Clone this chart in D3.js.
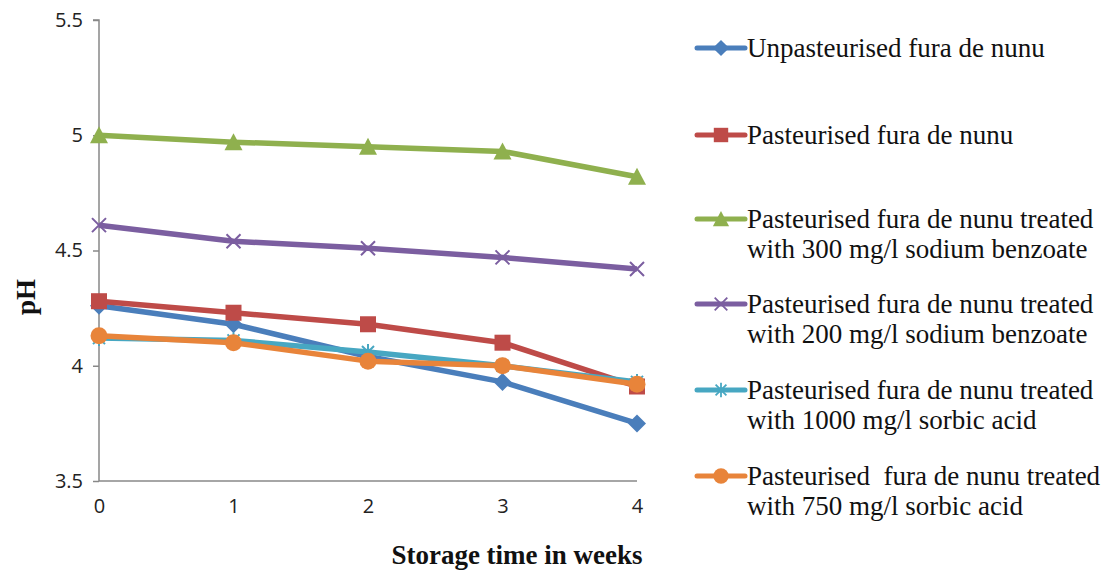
<!DOCTYPE html>
<html lang="en">
<head>
    <style>
        body { margin: 0; background: #fff; }
        .tick text { font-family: "Open Sans", "Liberation Sans", sans-serif; font-size: 20px; fill: #222; }
        .axis path, .axis line { stroke: #888; stroke-width: 1.5; }
        .legend text { font-family: "Liberation Serif", "Times New Roman", serif; font-size: 27px; fill: #111; }
        .title { font-family: "Liberation Serif", "Times New Roman", serif; font-size: 27px; font-weight: bold; fill: #111; }
    </style>
    <script src="https://d3js.org/d3.v7.min.js"></script>
</head>
<body>
<svg width="1105" height="571"></svg>
<script>
    // storage time in weeks
    var weeks = [0, 1, 2, 3, 4];
    var yTicks = [3.5, 4, 4.5, 5, 5.5];

    var unpasteurised = [4.26, 4.18, 4.04, 3.93, 3.75];
    var pasteurised = [4.28, 4.23, 4.18, 4.10, 3.91];
    var benzoate300 = [5.00, 4.97, 4.95, 4.93, 4.82];
    var benzoate200 = [4.61, 4.54, 4.51, 4.47, 4.42];
    var sorbic1000 = [4.12, 4.11, 4.06, 4.00, 3.93];
    var sorbic750 = [4.13, 4.10, 4.02, 4.00, 3.92];

    var seriesNames = [
        ["Unpasteurised fura de nunu"],
        ["Pasteurised fura de nunu"],
        ["Pasteurised fura de nunu treated", "with 300 mg/l sodium benzoate"],
        ["Pasteurised fura de nunu treated", "with 200 mg/l sodium benzoate"],
        ["Pasteurised fura de nunu treated", "with 1000 mg/l sorbic acid"],
        ["Pasteurised\u00a0 fura de nunu treated", "with 750 mg/l sorbic acid"]
    ];
    var colors = ["#4a7ebb", "#be4b48", "#8fb04e", "#7b5ea0", "#47a7c2", "#e8843a"];
    var shapes = ["diamond", "square", "triangle", "x", "star", "circle"];
    var values = [unpasteurised, pasteurised, benzoate300, benzoate200, sorbic1000, sorbic750];

    var svg = d3.select("svg");
    var plotLeft = 99, plotRight = 637, plotTop = 20, plotBottom = 481;

    var x = d3.scaleLinear().domain([0, 4]).range([plotLeft, plotRight]);
    var y = d3.scaleLinear().domain([3.5, 5.5]).range([plotBottom, plotTop]);

    // axes
    var yAxis = svg.append("g").attr("class", "axis")
        .attr("transform", "translate(" + plotLeft + ",0)")
        .call(d3.axisLeft(y).tickValues(yTicks).tickSize(6).tickPadding(10)
            .tickFormat(function(d) { return d; }));
    yAxis.select(".domain").attr("d", "M-6," + plotTop + "H0V" + plotBottom);

    var xAxis = svg.append("g").attr("class", "axis")
        .attr("transform", "translate(0," + plotBottom + ")")
        .call(d3.axisBottom(x).tickValues(weeks).tickSize(0).tickPadding(18)
            .tickFormat(d3.format("d")));
    xAxis.select(".domain").attr("d", "M" + plotLeft + ",0H" + plotRight);

    svg.append("text").attr("class", "title")
        .attr("x", 517).attr("y", 564).attr("text-anchor", "middle")
        .text("Storage time in weeks");
    svg.append("text").attr("class", "title")
        .attr("transform", "translate(35,297) rotate(-90)")
        .attr("text-anchor", "middle")
        .text("pH");

    function drawMarker(g, shape, color) {
        if (shape === "diamond") {
            g.append("path").attr("d", "M0,-9L9,0L0,9L-9,0Z").attr("fill", color);
        } else if (shape === "square") {
            g.append("rect").attr("x", -8).attr("y", -8).attr("width", 16).attr("height", 16).attr("fill", color);
        } else if (shape === "triangle") {
            g.append("path").attr("d", "M0,-9L9,8L-9,8Z").attr("fill", color);
        } else if (shape === "circle") {
            g.append("circle").attr("r", 8.5).attr("fill", color);
        } else if (shape === "x") {
            g.append("path").attr("d", "M-7,-7L7,7M-7,7L7,-7").attr("stroke", color).attr("stroke-width", 2);
        } else if (shape === "star") {
            g.append("path").attr("d", "M-6,-6L6,6M-6,6L6,-6M0,-8V8").attr("stroke", color).attr("stroke-width", 2);
        }
    }

    var line = d3.line().x(function(d, i) { return x(weeks[i]); }).y(function(d) { return y(d); });

    values.forEach(function(vals, s) {
        svg.append("path").datum(vals)
            .attr("d", line)
            .attr("fill", "none")
            .attr("stroke", colors[s])
            .attr("stroke-width", 5.5)
            .attr("stroke-linejoin", "round");
        vals.forEach(function(v, i) {
            var g = svg.append("g").attr("transform", "translate(" + x(weeks[i]) + "," + y(v) + ")");
            drawMarker(g, shapes[s], colors[s]);
        });
    });

    // legend
    var legendY = [48, 135, 219, 304, 390, 476];
    var legend = svg.append("g").attr("class", "legend");
    seriesNames.forEach(function(lines, s) {
        var g = legend.append("g").attr("transform", "translate(0," + legendY[s] + ")");
        g.append("line").attr("x1", 697).attr("x2", 745).attr("y1", 0).attr("y2", 0)
            .attr("stroke", colors[s]).attr("stroke-width", 5).attr("stroke-linecap", "round");
        drawMarker(g.append("g").attr("transform", "translate(721,0) scale(0.9)"), shapes[s], colors[s]);
        lines.forEach(function(t, k) {
            g.append("text").attr("x", 747).attr("y", 9 + k * 30).text(t);
        });
    });
</script>
</body>
</html>
